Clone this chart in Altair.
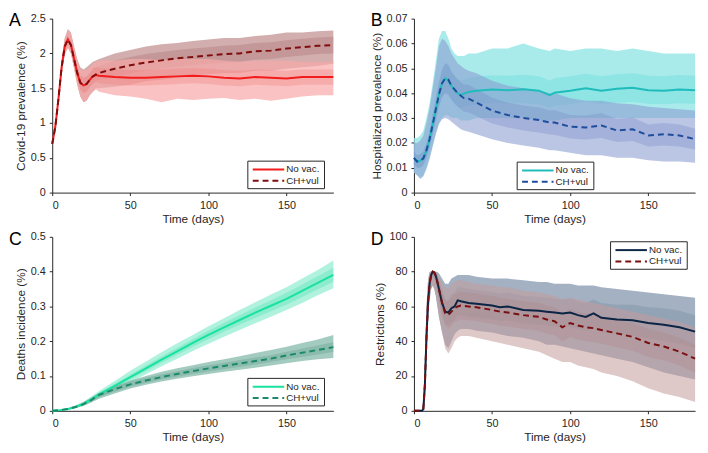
import altair as alt
import pandas as pd

W = 286
H = 177
FONT = "Liberation Sans, Arial, Helvetica, sans-serif"
INK = "#262626"

# ---------------- Panel A: Covid-19 prevalence (%) ----------------
tA = [0, 2, 4, 6, 8, 10, 12, 14, 16, 18, 20, 22, 24, 26, 28, 30,
      40, 50, 60, 70, 80, 90, 100, 110, 120, 130, 140, 150, 160, 170, 180]
A_nv_mean = [0.70, 0.95, 1.35, 1.80, 2.10, 2.20, 2.12, 1.92, 1.72, 1.58, 1.54, 1.56, 1.62, 1.67, 1.69, 1.68,
             1.66, 1.65, 1.65, 1.66, 1.67, 1.68, 1.67, 1.65, 1.64, 1.66, 1.65, 1.64, 1.66, 1.66, 1.66]
A_ch_mean = [0.70, 0.95, 1.35, 1.80, 2.10, 2.20, 2.12, 1.92, 1.72, 1.58, 1.54, 1.56, 1.62, 1.67, 1.70, 1.72,
             1.78, 1.83, 1.87, 1.90, 1.93, 1.95, 1.97, 1.99, 2.00, 2.03, 2.04, 2.07, 2.09, 2.11, 2.12]
A_nv_lo = [0.68, 0.90, 1.28, 1.70, 1.98, 2.08, 2.00, 1.78, 1.55, 1.38, 1.30, 1.32, 1.40, 1.45, 1.48, 1.45,
           1.40, 1.38, 1.35, 1.30, 1.35, 1.33, 1.35, 1.36, 1.33, 1.35, 1.32, 1.35, 1.38, 1.40, 1.40]
A_nv_hi = [0.73, 1.00, 1.42, 1.90, 2.22, 2.33, 2.28, 2.08, 1.90, 1.78, 1.75, 1.77, 1.80, 1.85, 1.88, 1.90,
           1.90, 1.92, 1.92, 1.90, 1.92, 1.92, 1.92, 1.90, 1.88, 1.90, 1.90, 1.90, 1.88, 1.88, 1.88]
A_nv_ilo = [0.69, 0.92, 1.31, 1.75, 2.04, 2.14, 2.06, 1.85, 1.64, 1.48, 1.43, 1.45, 1.51, 1.56, 1.59, 1.57,
            1.55, 1.54, 1.54, 1.55, 1.56, 1.57, 1.56, 1.54, 1.53, 1.55, 1.54, 1.53, 1.55, 1.55, 1.55]
A_nv_ihi = [0.72, 0.98, 1.39, 1.85, 2.16, 2.26, 2.19, 1.99, 1.80, 1.68, 1.65, 1.67, 1.72, 1.78, 1.80, 1.79,
            1.77, 1.76, 1.76, 1.77, 1.78, 1.79, 1.78, 1.76, 1.75, 1.77, 1.76, 1.75, 1.77, 1.77, 1.77]
A_ch_lo = [0.68, 0.90, 1.28, 1.70, 1.98, 2.08, 2.00, 1.78, 1.55, 1.38, 1.30, 1.32, 1.40, 1.45, 1.50, 1.50,
           1.52, 1.55, 1.60, 1.62, 1.65, 1.68, 1.70, 1.72, 1.72, 1.75, 1.75, 1.78, 1.80, 1.82, 1.85]
A_ch_hi = [0.73, 1.00, 1.42, 1.90, 2.22, 2.35, 2.30, 2.10, 1.92, 1.80, 1.77, 1.80, 1.84, 1.88, 1.90, 1.92,
           2.00, 2.05, 2.10, 2.13, 2.15, 2.18, 2.20, 2.22, 2.22, 2.25, 2.27, 2.30, 2.30, 2.32, 2.33]
A_ch_ilo = [0.69, 0.92, 1.31, 1.75, 2.04, 2.14, 2.06, 1.85, 1.64, 1.48, 1.43, 1.45, 1.51, 1.56, 1.60, 1.62,
            1.66, 1.71, 1.75, 1.78, 1.81, 1.83, 1.85, 1.87, 1.88, 1.91, 1.92, 1.95, 1.97, 1.99, 2.00]
A_ch_ihi = [0.72, 0.98, 1.39, 1.85, 2.16, 2.26, 2.19, 1.99, 1.80, 1.68, 1.65, 1.67, 1.72, 1.78, 1.80, 1.82,
            1.90, 1.95, 1.99, 2.02, 2.05, 2.07, 2.09, 2.11, 2.12, 2.15, 2.16, 2.19, 2.21, 2.23, 2.24]

# ---------------- Panel B: Hospitalized prevalence (%) ----------------
tB = [0, 2, 4, 6, 8, 10, 12, 14, 16, 18, 20, 22, 24, 26, 28, 30, 32, 35, 40,
      50, 60, 70, 80, 87, 90, 100, 110, 120, 130, 140, 150, 160, 170, 180]
B_nv_mean = [0.0140, 0.0125, 0.0128, 0.0138, 0.0170, 0.0215, 0.0275, 0.0335, 0.0395, 0.0440, 0.0460, 0.0450,
             0.0430, 0.0412, 0.0400, 0.0392, 0.0398, 0.0405, 0.0410, 0.0415, 0.0412, 0.0416, 0.0410, 0.0392,
             0.0402, 0.0410, 0.0420, 0.0410, 0.0418, 0.0422, 0.0412, 0.0410, 0.0415, 0.0412]
B_ch_mean = [0.0140, 0.0125, 0.0128, 0.0138, 0.0170, 0.0215, 0.0275, 0.0335, 0.0395, 0.0440, 0.0460, 0.0455,
             0.0430, 0.0415, 0.0400, 0.0390, 0.0380, 0.0378, 0.0362, 0.0330, 0.0312, 0.0300, 0.0292, 0.0282,
             0.0282, 0.0265, 0.0262, 0.0270, 0.0250, 0.0255, 0.0230, 0.0235, 0.0230, 0.0215]
B_nv_lo = [0.0080, 0.0070, 0.0060, 0.0070, 0.0100, 0.0140, 0.0190, 0.0240, 0.0280, 0.0300, 0.0310, 0.0310,
           0.0300, 0.0300, 0.0300, 0.0290, 0.0290, 0.0290, 0.0300, 0.0300, 0.0300, 0.0300, 0.0290, 0.0290,
           0.0290, 0.0300, 0.0300, 0.0300, 0.0300, 0.0300, 0.0300, 0.0300, 0.0300, 0.0300]
B_nv_hi = [0.0220, 0.0220, 0.0230, 0.0250, 0.0300, 0.0360, 0.0440, 0.0530, 0.0620, 0.0650, 0.0650, 0.0620,
           0.0580, 0.0560, 0.0550, 0.0550, 0.0550, 0.0560, 0.0560, 0.0580, 0.0580, 0.0600, 0.0580, 0.0570,
           0.0580, 0.0570, 0.0580, 0.0580, 0.0570, 0.0580, 0.0570, 0.0560, 0.0560, 0.0560]
B_nv_ilo = [0.0115, 0.0100, 0.0100, 0.0110, 0.0140, 0.0180, 0.0235, 0.0290, 0.0345, 0.0385, 0.0400, 0.0390,
            0.0370, 0.0355, 0.0345, 0.0340, 0.0345, 0.0350, 0.0355, 0.0360, 0.0358, 0.0360, 0.0355, 0.0340,
            0.0348, 0.0355, 0.0365, 0.0355, 0.0362, 0.0366, 0.0357, 0.0355, 0.0360, 0.0357]
B_nv_ihi = [0.0165, 0.0150, 0.0155, 0.0165, 0.0200, 0.0250, 0.0315, 0.0380, 0.0445, 0.0495, 0.0520, 0.0510,
            0.0490, 0.0470, 0.0458, 0.0450, 0.0455, 0.0462, 0.0467, 0.0472, 0.0470, 0.0474, 0.0468, 0.0450,
            0.0460, 0.0468, 0.0478, 0.0468, 0.0476, 0.0480, 0.0470, 0.0468, 0.0473, 0.0470]
B_ch_lo = [0.0080, 0.0070, 0.0055, 0.0065, 0.0095, 0.0135, 0.0185, 0.0235, 0.0275, 0.0295, 0.0300, 0.0295,
           0.0285, 0.0275, 0.0265, 0.0255, 0.0250, 0.0245, 0.0235, 0.0215, 0.0200, 0.0190, 0.0180, 0.0170,
           0.0170, 0.0160, 0.0150, 0.0150, 0.0140, 0.0140, 0.0130, 0.0125, 0.0125, 0.0120]
B_ch_hi = [0.0200, 0.0200, 0.0210, 0.0230, 0.0280, 0.0340, 0.0420, 0.0500, 0.0590, 0.0620, 0.0610, 0.0590,
           0.0560, 0.0540, 0.0520, 0.0510, 0.0500, 0.0490, 0.0480, 0.0450, 0.0430, 0.0420, 0.0410, 0.0400,
           0.0400, 0.0380, 0.0370, 0.0370, 0.0360, 0.0355, 0.0345, 0.0340, 0.0335, 0.0330]
B_ch_ilo = [0.0115, 0.0100, 0.0100, 0.0110, 0.0140, 0.0180, 0.0235, 0.0290, 0.0345, 0.0385, 0.0400, 0.0395,
            0.0375, 0.0360, 0.0345, 0.0335, 0.0325, 0.0322, 0.0308, 0.0278, 0.0262, 0.0250, 0.0242, 0.0234,
            0.0233, 0.0218, 0.0214, 0.0220, 0.0204, 0.0208, 0.0186, 0.0190, 0.0186, 0.0173]
B_ch_ihi = [0.0165, 0.0150, 0.0155, 0.0165, 0.0200, 0.0250, 0.0315, 0.0380, 0.0445, 0.0495, 0.0520, 0.0515,
            0.0485, 0.0470, 0.0455, 0.0445, 0.0435, 0.0434, 0.0416, 0.0382, 0.0362, 0.0350, 0.0342, 0.0330,
            0.0331, 0.0312, 0.0310, 0.0320, 0.0296, 0.0302, 0.0274, 0.0280, 0.0274, 0.0257]

# ---------------- Panel C: Deaths incidence (%) ----------------
tC = [0, 5, 10, 15, 20, 25, 30, 40, 50, 60, 70, 80, 90, 100, 110, 120, 130, 140, 150, 160, 170, 180]
C_nv_mean = [0, 0.002, 0.005, 0.011, 0.020, 0.033, 0.047, 0.072, 0.097, 0.122, 0.147, 0.171, 0.195,
             0.218, 0.240, 0.261, 0.282, 0.302, 0.322, 0.345, 0.368, 0.391]
C_ch_mean = [0, 0.002, 0.005, 0.011, 0.019, 0.031, 0.046, 0.062, 0.076, 0.087, 0.097, 0.106, 0.114,
             0.122, 0.129, 0.136, 0.143, 0.150, 0.159, 0.167, 0.175, 0.183]
C_nv_lo = [0, 0.001, 0.003, 0.008, 0.015, 0.026, 0.038, 0.060, 0.082, 0.105, 0.128, 0.150, 0.172,
           0.193, 0.213, 0.232, 0.252, 0.270, 0.290, 0.310, 0.332, 0.352]
C_nv_hi = [0, 0.003, 0.008, 0.015, 0.026, 0.041, 0.057, 0.086, 0.115, 0.142, 0.168, 0.194, 0.218,
           0.243, 0.266, 0.290, 0.312, 0.334, 0.355, 0.380, 0.405, 0.432]
C_nv_ilo = [0, 0.0015, 0.004, 0.0095, 0.0175, 0.030, 0.043, 0.066, 0.090, 0.114, 0.138, 0.161, 0.184,
            0.206, 0.227, 0.247, 0.267, 0.286, 0.305, 0.327, 0.349, 0.371]
C_nv_ihi = [0, 0.0025, 0.006, 0.0125, 0.0225, 0.036, 0.051, 0.078, 0.104, 0.130, 0.156, 0.181, 0.206,
            0.230, 0.253, 0.275, 0.297, 0.318, 0.339, 0.363, 0.387, 0.411]
C_ch_lo = [0, 0.001, 0.003, 0.008, 0.014, 0.024, 0.035, 0.050, 0.064, 0.075, 0.084, 0.092, 0.099,
           0.106, 0.112, 0.118, 0.124, 0.130, 0.137, 0.143, 0.148, 0.152]
C_ch_hi = [0, 0.003, 0.008, 0.015, 0.025, 0.038, 0.052, 0.071, 0.087, 0.100, 0.112, 0.122, 0.131,
           0.140, 0.148, 0.157, 0.166, 0.175, 0.184, 0.195, 0.205, 0.218]
C_ch_ilo = [0, 0.0015, 0.004, 0.0095, 0.0165, 0.027, 0.040, 0.055, 0.069, 0.080, 0.090, 0.098, 0.106,
            0.113, 0.120, 0.126, 0.133, 0.140, 0.148, 0.155, 0.162, 0.169]
C_ch_ihi = [0, 0.0025, 0.006, 0.0125, 0.0215, 0.035, 0.050, 0.069, 0.084, 0.095, 0.105, 0.114, 0.123,
            0.131, 0.138, 0.146, 0.153, 0.160, 0.170, 0.179, 0.188, 0.197]

# ---------------- Panel D: Restrictions (%) ----------------
tD = [0, 5, 6, 7, 8, 9, 10, 11, 12, 13, 14, 15, 16, 18, 20, 22, 24, 26, 28, 30, 35, 40, 50, 55, 60,
      70, 80, 85, 90, 95, 100, 105, 110, 115, 120, 130, 140, 150, 160, 170, 180]
D_nv_mean = [0, 0, 1, 15, 42, 62, 73, 78, 80, 79.5, 77.5, 74, 70, 62, 57, 56.5, 59, 60, 63.5, 63, 62, 61.5,
             60.5, 59.5, 60, 58, 57.5, 57, 56.5, 56, 56.5, 55, 54, 56, 53.5, 52.5, 52, 50.5, 49.5, 48, 45.5]
D_ch_mean = [0, 0, 1, 15, 42, 62, 73, 78, 80, 79.5, 77.5, 74, 70, 62, 56, 55, 57, 59, 60, 60.5, 60, 59.5,
             58, 57, 56.5, 55, 54, 52.5, 51.5, 48, 50.5, 49, 48, 47.5, 46.5, 44.5, 42.5, 39, 37, 34, 30]
D_nv_lo = [0, 0, 0, 5, 30, 52, 64, 70, 72, 70, 66, 60, 54, 45, 38, 36, 40, 44, 46, 47, 47, 46,
           45, 44, 43, 42, 40, 38, 38, 37, 36, 35, 34, 33, 32, 30, 28, 25, 22, 20, 18]
D_nv_hi = [0, 0, 5, 30, 60, 75, 80, 80, 80, 80, 80, 80, 79, 76, 73, 73, 76, 77, 78, 78, 78, 77,
           76, 76, 76, 75, 74, 74, 73, 73, 73, 72, 72, 72, 71, 70, 69, 68, 67, 66, 65]
D_nv_ilo = [0, 0, 0, 10, 36, 57, 69, 75, 77, 76, 73, 69, 64, 55, 50, 49, 51, 52, 55, 55, 54, 53.5,
            52.5, 51.5, 52, 50, 49.5, 49, 48.5, 48, 48, 47, 46, 47, 45, 44, 43, 41.5, 40, 38.5, 36]
D_nv_ihi = [0, 0, 2, 20, 48, 67, 77, 80, 80, 80, 80, 78, 75, 69, 64, 64, 67, 68, 71, 71, 70, 69.5,
            68.5, 67.5, 68, 66, 65.5, 65, 64.5, 64, 64.5, 63, 62, 64, 62, 61, 61, 59.5, 59, 57.5, 55]
D_ch_lo = [0, 0, 0, 5, 30, 52, 64, 70, 72, 70, 66, 60, 54, 45, 36, 33, 36, 40, 42, 43, 43, 42,
           40, 39, 38, 36, 34, 32, 30, 28, 28, 26, 25, 24, 22, 20, 17, 13, 10, 8, 5]
D_ch_hi = [0, 0, 5, 30, 60, 75, 80, 80, 80, 80, 80, 79, 77, 74, 71, 70, 73, 74, 75, 75, 74, 73,
           72, 71, 71, 69, 68, 67, 66, 64, 65, 64, 63, 62, 61, 59, 57, 55, 53, 51, 48]
D_ch_ilo = [0, 0, 0, 10, 36, 57, 69, 75, 77, 76, 73, 69, 64, 55, 49, 47, 49, 51, 52, 52.5, 52, 51.5,
            50, 49, 48.5, 47, 46, 44.5, 43.5, 40, 42.5, 41, 40, 39.5, 38.5, 36.5, 34.5, 31, 29, 26, 22]
D_ch_ihi = [0, 0, 2, 20, 48, 67, 77, 80, 80, 80, 80, 78, 75, 69, 63, 63, 65, 67, 68, 68.5, 68, 67.5,
            66, 65, 64.5, 63, 62, 60.5, 59.5, 56, 58.5, 57, 56, 55.5, 54.5, 52.5, 50.5, 47, 45, 42, 38]

LABELS = ["No vac.", "CH+vul"]
X_TICKS = [0, 50, 100, 150]
DASH = [6, 4]


def build_panel(t, bands, lines, ydomain, yticks, ytitle, letter, box):
    xs = alt.Scale(domain=[0, 180], nice=False, zero=False)
    ys = alt.Scale(domain=ydomain, nice=False, zero=False)
    xax = alt.Axis(values=X_TICKS, title="Time (days)", tickSize=3, labelPadding=4,
                   titlePadding=3, grid=False)
    yax = alt.Axis(values=yticks, title=ytitle, format="~r", tickSize=3, labelPadding=4,
                   titlePadding=3, grid=False)
    layers = []
    for lo, hi, col, op in bands:
        df = pd.DataFrame({"t": t, "lo": lo, "hi": hi})
        layers.append(
            alt.Chart(df).mark_area(color=col, opacity=op, interpolate="linear").encode(
                x=alt.X("t:Q", scale=xs, axis=xax),
                y=alt.Y("lo:Q", scale=ys, axis=yax),
                y2="hi:Q",
            )
        )
    for mean, col, dashed in lines:
        df = pd.DataFrame({"t": t, "v": mean})
        kw = dict(color=col, strokeWidth=2)
        if dashed:
            kw["strokeDash"] = DASH
        layers.append(
            alt.Chart(df).mark_line(**kw).encode(
                x=alt.X("t:Q", scale=xs, axis=xax),
                y=alt.Y("v:Q", scale=ys, axis=yax),
            )
        )
    # legend box (MATLAB style, inside the axes)
    bx, by = box
    bw, bh = 78, 28
    one = pd.DataFrame({"k": [0]})
    layers.append(
        alt.Chart(one).mark_rect(fill="white", stroke=INK, strokeWidth=1).encode(
            x=alt.value(bx), x2=alt.value(bx + bw), y=alt.value(by), y2=alt.value(by + bh)
        )
    )
    for i, (mean, col, dashed) in enumerate(lines):
        yy = by + 8.5 + i * 11.5
        kw = dict(color=col, strokeWidth=2)
        if dashed:
            kw["strokeDash"] = DASH
        layers.append(
            alt.Chart(one).mark_rule(**kw).encode(
                x=alt.value(bx + 5), x2=alt.value(bx + 37), y=alt.value(yy)
            )
        )
        layers.append(
            alt.Chart(pd.DataFrame({"lab": [LABELS[i]]})).mark_text(
                align="left", baseline="middle", fontSize=10, font=FONT, color=INK
            ).encode(x=alt.value(bx + 39), y=alt.value(yy), text="lab:N")
        )
    layers.append(
        alt.Chart(pd.DataFrame({"lab": [letter]})).mark_text(
            align="left", baseline="top", fontSize=18, font=FONT, color="black"
        ).encode(x=alt.value(-44), y=alt.value(-6), text="lab:N")
    )
    return alt.layer(*layers).properties(width=W, height=H)


pA = build_panel(
    tA,
    [(A_ch_lo, A_ch_hi, "#bf8c8c", 0.7), (A_ch_ilo, A_ch_ihi, "#a56868", 0.3),
     (A_nv_lo, A_nv_hi, "#f8a8a8", 0.7), (A_nv_ilo, A_nv_ihi, "#f27c7c", 0.3)],
    [(A_nv_mean, "#f21c1c", False), (A_ch_mean, "#800d0d", True)],
    [0, 2.5], [0, 0.5, 1, 1.5, 2, 2.5], "Covid-19 prevalence (%)", "A",
    (W - 87, H - 32),
)
pB = build_panel(
    tB,
    [(B_nv_lo, B_nv_hi, "#93e6e6", 0.8), (B_nv_ilo, B_nv_ihi, "#5fd6d6", 0.35),
     (B_ch_lo, B_ch_hi, "#8d9fd2", 0.6), (B_ch_ilo, B_ch_ihi, "#6f86c4", 0.3)],
    [(B_nv_mean, "#1fbcbc", False), (B_ch_mean, "#1d4d9c", True)],
    [0, 0.07], [0, 0.01, 0.02, 0.03, 0.04, 0.05, 0.06, 0.07], "Hospitalized prevalence (%)", "B",
    (105, H - 31),
)
pC = build_panel(
    tC,
    [(C_nv_lo, C_nv_hi, "#95eed2", 0.75), (C_nv_ilo, C_nv_ihi, "#4fe2b3", 0.35),
     (C_ch_lo, C_ch_hi, "#86b9aa", 0.75), (C_ch_ilo, C_ch_ihi, "#5f9e8c", 0.35)],
    [(C_nv_mean, "#17e29f", False), (C_ch_mean, "#1b896b", True)],
    [0, 0.5], [0, 0.1, 0.2, 0.3, 0.4, 0.5], "Deaths incidence (%)", "C",
    (W - 87, H - 33),
)
pD = build_panel(
    tD,
    [(D_nv_lo, D_nv_hi, "#8c9db3", 0.8), (D_nv_ilo, D_nv_ihi, "#6f839c", 0.3),
     (D_ch_lo, D_ch_hi, "#c59a9a", 0.55), (D_ch_ilo, D_ch_ihi, "#b08080", 0.25)],
    [(D_nv_mean, "#0b2545", False), (D_ch_mean, "#7b0f0f", True)],
    [0, 100], [0, 20, 40, 60, 80, 100], "Restrictions (%)", "D",
    (W - 86, 5),
)

chart = alt.vconcat(
    alt.hconcat(pA, pB, spacing=32),
    alt.hconcat(pC, pD, spacing=32),
    spacing=5,
).properties(
    padding={"left": 0, "top": 0, "right": 0, "bottom": 0}
).configure_view(
    stroke="transparent"
).configure_axis(
    domainColor=INK, tickColor=INK, labelColor=INK, titleColor=INK,
    labelFont=FONT, titleFont=FONT, labelFontSize=11, titleFontSize=12,
    titleFontWeight="normal", domainWidth=1, tickWidth=1,
)

chart.save("out.html", embed_options={"renderer": "svg", "actions": False})
